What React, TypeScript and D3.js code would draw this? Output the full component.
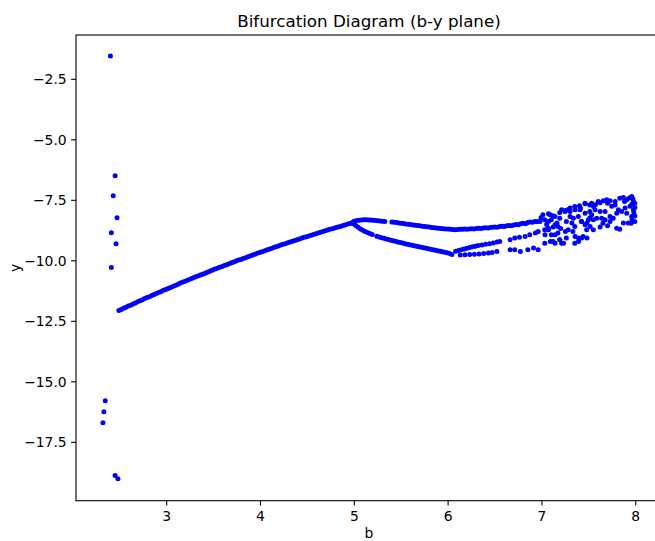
import React from "react";
import * as d3 from "d3";

// Parameter b and observed y-values for each section of the diagram.
const transientPoints: [number, number][] = [
  [2.4, -1.54], [2.45, -6.49], [2.43, -7.31], [2.47, -8.22], [2.41, -8.84],
  [2.46, -9.29], [2.41, -10.28], [2.345, -15.78], [2.33, -16.23], [2.32, -16.69],
  [2.45, -18.87], [2.48, -19.0],
];

const periodOneBranch: [number, number][] = [
  [2.49, -12.05], [2.515, -12.01], [2.54, -11.96], [2.565, -11.92], [2.59, -11.87],
  [2.615, -11.83], [2.64, -11.78], [2.665, -11.74], [2.69, -11.69], [2.715, -11.65],
  [2.74, -11.61], [2.765, -11.56], [2.79, -11.52], [2.815, -11.48], [2.84, -11.43],
  [2.865, -11.39], [2.89, -11.35], [2.915, -11.31], [2.94, -11.27], [2.965, -11.22],
  [2.99, -11.18], [3.015, -11.14], [3.04, -11.1], [3.065, -11.06], [3.09, -11.02],
  [3.115, -10.98], [3.14, -10.93], [3.165, -10.89], [3.19, -10.85], [3.215, -10.81],
  [3.24, -10.77], [3.265, -10.73], [3.29, -10.69], [3.315, -10.65], [3.34, -10.62],
  [3.365, -10.58], [3.39, -10.54], [3.415, -10.5], [3.44, -10.46], [3.465, -10.42],
  [3.49, -10.38], [3.515, -10.34], [3.54, -10.31], [3.565, -10.27], [3.59, -10.23],
  [3.615, -10.19], [3.64, -10.16], [3.665, -10.12], [3.69, -10.08], [3.715, -10.05],
  [3.74, -10.01], [3.765, -9.97], [3.79, -9.94], [3.815, -9.9], [3.84, -9.87],
  [3.865, -9.83], [3.89, -9.8], [3.915, -9.76], [3.94, -9.73], [3.965, -9.69],
  [3.99, -9.66], [4.015, -9.62], [4.04, -9.59], [4.065, -9.55], [4.09, -9.52],
  [4.115, -9.49], [4.14, -9.45], [4.165, -9.42], [4.19, -9.39], [4.215, -9.35],
  [4.24, -9.32], [4.265, -9.29], [4.29, -9.25], [4.315, -9.22], [4.34, -9.19],
  [4.365, -9.16], [4.39, -9.13], [4.415, -9.1], [4.44, -9.06], [4.465, -9.03],
  [4.49, -9.0], [4.515, -8.97], [4.54, -8.94], [4.565, -8.91], [4.59, -8.88],
  [4.615, -8.85], [4.64, -8.82], [4.665, -8.79], [4.69, -8.76], [4.715, -8.73],
  [4.74, -8.7], [4.765, -8.67], [4.79, -8.64], [4.815, -8.61], [4.84, -8.59],
  [4.865, -8.56], [4.89, -8.53], [4.915, -8.5], [4.94, -8.47], [4.965, -8.45],
];

const upperBranch: [number, number][] = [
  [4.985, -8.4], [5.0, -8.36], [5.025, -8.33], [5.05, -8.32], [5.075, -8.31], [5.1, -8.3],
  [5.125, -8.3], [5.15, -8.31], [5.175, -8.31], [5.2, -8.32], [5.225, -8.33],
  [5.25, -8.34], [5.275, -8.35], [5.3, -8.36], [5.325, -8.37], [5.4, -8.4],
  [5.425, -8.41], [5.45, -8.42], [5.475, -8.44], [5.5, -8.45], [5.525, -8.46],
  [5.55, -8.48], [5.575, -8.49], [5.6, -8.5], [5.625, -8.52], [5.65, -8.53],
  [5.675, -8.54], [5.7, -8.55], [5.725, -8.57], [5.75, -8.58], [5.775, -8.59],
  [5.8, -8.6], [5.825, -8.62], [5.85, -8.63], [5.875, -8.64], [5.9, -8.65],
  [5.925, -8.66], [5.95, -8.67], [5.975, -8.68], [6.0, -8.69], [6.025, -8.7],
  [6.05, -8.71],
];

const lowerBranch: [number, number][] = [
  [4.99, -8.47], [5.015, -8.54], [5.04, -8.61], [5.065, -8.68], [5.09, -8.74],
  [5.115, -8.79], [5.14, -8.83], [5.165, -8.87], [5.19, -8.91], [5.24, -8.98],
  [5.265, -9.02], [5.29, -9.05], [5.315, -9.07], [5.34, -9.1], [5.365, -9.12],
  [5.39, -9.15], [5.415, -9.17], [5.44, -9.19], [5.465, -9.22], [5.49, -9.24],
  [5.515, -9.26], [5.54, -9.29], [5.565, -9.31], [5.59, -9.34], [5.615, -9.36],
  [5.64, -9.38], [5.665, -9.4], [5.69, -9.42], [5.715, -9.44], [5.74, -9.46],
  [5.765, -9.48], [5.79, -9.5], [5.815, -9.52], [5.84, -9.54], [5.865, -9.56],
  [5.89, -9.58], [5.915, -9.6], [5.94, -9.62], [5.965, -9.65], [5.99, -9.67],
  [6.015, -9.7], [6.04, -9.74],
];

const upperBand: [number, number][] = [
  [6.075, -8.72], [6.1, -8.71], [6.125, -8.7], [6.15, -8.7], [6.175, -8.69],
  [6.2, -8.7], [6.225, -8.68], [6.25, -8.67], [6.275, -8.68], [6.3, -8.66],
  [6.325, -8.65], [6.35, -8.66], [6.375, -8.64], [6.4, -8.63], [6.425, -8.64],
  [6.45, -8.62], [6.475, -8.61], [6.5, -8.6], [6.525, -8.61], [6.55, -8.58],
  [6.575, -8.57], [6.6, -8.58], [6.625, -8.55], [6.65, -8.54], [6.675, -8.55],
  [6.7, -8.52], [6.725, -8.5], [6.75, -8.51], [6.775, -8.47], [6.8, -8.45],
  [6.825, -8.47], [6.85, -8.42], [6.875, -8.4], [6.9, -8.41], [6.925, -8.37],
  [6.95, -8.38], [6.98, -8.37],
];

const lowerBandA: [number, number][] = [
  [6.08, -9.6], [6.11, -9.57], [6.14, -9.54], [6.17, -9.51], [6.2, -9.48],
  [6.23, -9.45], [6.26, -9.42], [6.29, -9.4], [6.32, -9.37], [6.36, -9.35],
  [6.4, -9.32], [6.44, -9.29], [6.48, -9.26], [6.52, -9.22], [6.55, -9.2],
  [6.66, -9.13], [6.71, -9.06], [6.76, -9.03], [6.82, -8.99], [6.87, -8.92],
  [6.93, -8.85], [6.96, -8.79], [7.03, -8.72], [7.07, -8.65],
];

const lowerBandB: [number, number][] = [
  [6.13, -9.76], [6.18, -9.75], [6.23, -9.74], [6.28, -9.73], [6.33, -9.72],
  [6.38, -9.7], [6.43, -9.68], [6.47, -9.66], [6.52, -9.61], [6.66, -9.54],
  [6.71, -9.54], [6.77, -9.61], [6.85, -9.54], [6.91, -9.47], [6.96, -9.54],
  [7.03, -9.27], [7.09, -9.2], [7.14, -9.27], [7.19, -9.13], [7.23, -9.27],
  [7.26, -9.06], [7.12, -9.2], [7.21, -9.27], [7.19, -9.13],
];

const chaoticPoints: [number, number][] = [
  // upper envelope
  [7.01, -8.1], [7.07, -8.06], [7.12, -8.14], [7.19, -8.0], [7.25, -7.92],
  [7.3, -7.82], [7.35, -7.76], [7.41, -7.82], [7.46, -7.64], [7.51, -7.69],
  [7.55, -7.76], [7.46, -8.03], [7.51, -7.96], [7.53, -8.1], [7.46, -7.62],
  [7.53, -7.62], [7.6, -7.55], [7.655, -7.52], [7.69, -7.48], [7.726, -7.52],
  [7.78, -7.55], [7.83, -7.41], [7.868, -7.38], [7.904, -7.48], [7.957, -7.34],
  [7.975, -7.55], [7.99, -7.62], [7.94, -7.75], [7.975, -7.89], [7.886, -7.82],
  [7.815, -7.89], [7.78, -7.69], [7.744, -7.75], [7.93, -7.4], [7.97, -7.45],
  [7.88, -7.55], [7.96, -7.65], [7.99, -7.8], [7.98, -8.0], [7.99, -8.15],
  [7.62, -7.6], [7.7, -7.62], [7.57, -7.68], [7.4, -7.72], [7.28, -7.88],
  // second layer
  [7.03, -8.3], [7.07, -8.37], [7.16, -8.44], [7.17, -8.58], [7.26, -8.37],
  [7.32, -8.44], [7.35, -8.58], [7.42, -8.37], [7.48, -8.44], [7.51, -8.23],
  [7.566, -7.89], [7.62, -7.96], [7.673, -7.96], [7.726, -8.17], [7.76, -8.24],
  [7.797, -8.03], [7.85, -7.96], [7.904, -8.03], [7.957, -8.17], [7.99, -8.37],
  [7.92, -8.44], [7.868, -8.44], [7.797, -8.65], [7.726, -8.37], [7.673, -8.3],
  [7.637, -8.24], [7.584, -8.24], [7.548, -8.3], [7.495, -8.3], [7.46, -8.51],
  [7.513, -8.58], [7.548, -8.72], [7.477, -8.72], [7.424, -8.37], [7.388, -8.17],
  [7.335, -8.24], [7.3, -8.17], [7.353, -7.89], [7.406, -7.89], [7.3, -7.96],
  [7.246, -7.96], [7.21, -7.89], [6.99, -8.22], [7.05, -8.5], [7.1, -8.3],
  [7.12, -8.6], [7.2, -8.66], [7.62, -8.6], [7.7, -8.55], [7.83, -8.7],
  [7.95, -8.45], [7.65, -8.45], [7.96, -8.3],
  // middle and lower scatter
  [7.14, -8.51], [7.07, -8.72], [7.19, -8.24], [7.14, -8.17], [7.086, -8.1],
  [7.033, -8.92], [7.1, -8.92], [7.14, -8.92], [7.17, -8.85], [7.25, -8.79],
  [7.28, -8.72], [7.33, -8.79], [7.39, -9.06], [7.44, -8.99], [7.48, -9.06],
  [7.35, -9.27], [7.39, -9.2], [7.353, -8.99], [7.424, -9.06],
];

const xTicks = [3, 4, 5, 6, 7, 8];
const yTicks = [-2.5, -5.0, -7.5, -10.0, -12.5, -15.0, -17.5];

const W = 655;
const H = 541;
const margin = { left: 76, top: 35, right: 662, bottom: 500.7 };

export default function App() {
  const x = d3.scaleLinear().domain([2.033, 8.28]).range([margin.left, margin.right]);
  const y = d3.scaleLinear().domain([-19.91, -0.67]).range([margin.bottom, margin.top]);

  const allPoints = [
    ...transientPoints,
    ...periodOneBranch,
    ...upperBranch,
    ...lowerBranch,
    ...upperBand,
    ...lowerBandA,
    ...lowerBandB,
    ...chaoticPoints,
  ];

  const fmtY = (v: number) => d3.format(".1f")(v).replace("-", "\u2212");
  const font = "DejaVu Sans, sans-serif";

  return (
    <svg
      width={W}
      height={H}
      style={{ position: "absolute", left: 0, top: 0, background: "#fff" }}
      fontFamily={font}
    >
      <rect x={0} y={0} width={W} height={H} fill="#fff" />
      <g>
        {allPoints.map(([b, v], i) => (
          <circle key={i} cx={x(b)} cy={y(v)} r={2.5} fill="#0000ff" />
        ))}
      </g>
      {/* spines */}
      <rect
        x={margin.left}
        y={margin.top}
        width={margin.right - margin.left}
        height={margin.bottom - margin.top}
        fill="none"
        stroke="#000"
        strokeWidth={1.1}
      />
      {/* x ticks */}
      {xTicks.map((t) => (
        <g key={t} transform={`translate(${x(t)},${margin.bottom})`}>
          <line y1={0} y2={4.9} stroke="#000" strokeWidth={1.1} />
          <text y={20.5} textAnchor="middle" fontSize={13.9} fill="#000">
            {t}
          </text>
        </g>
      ))}
      {/* y ticks */}
      {yTicks.map((t) => (
        <g key={t} transform={`translate(${margin.left},${y(t)})`}>
          <line x1={0} x2={-4.9} stroke="#000" strokeWidth={1.1} />
          <text x={-9.3} dy="0.35em" textAnchor="end" fontSize={13.9} fill="#000">
            {fmtY(t)}
          </text>
        </g>
      ))}
      <text x={(margin.left + margin.right) / 2} y={538} textAnchor="middle" fontSize={13.9}>
        b
      </text>
      <text
        transform={`translate(${20},${(margin.top + margin.bottom) / 2}) rotate(-90)`}
        textAnchor="middle"
        fontSize={13.9}
      >
        y
      </text>
      <text x={(margin.left + margin.right) / 2} y={26.5} textAnchor="middle" fontSize={16.7}>
        Bifurcation Diagram (b-y plane)
      </text>
    </svg>
  );
}
